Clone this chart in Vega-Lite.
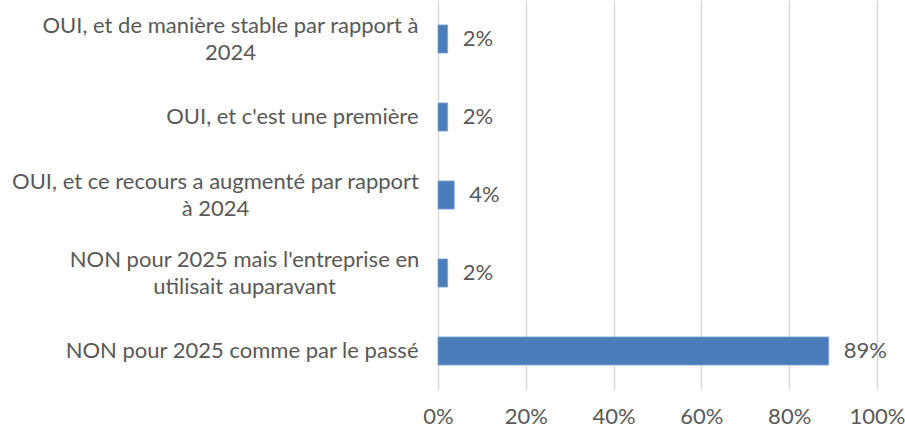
{
  "$schema": "https://vega.github.io/schema/vega-lite/v6.json",
  "width": 439,
  "height": 390,
  "autosize": {"type": "none"},
  "padding": {"left": 438, "top": 0, "right": 28, "bottom": 44},
  "background": "white",
  "config": {"view": {"stroke": null}, "font": "Lato"},
  "data": {"values": [
    {"cat": "OUI, et de manière stable par rapport à|2024", "value": 0.022, "label": "2%"},
    {"cat": "OUI, et c'est une première", "value": 0.022, "label": "2%"},
    {"cat": "OUI, et ce recours a augmenté par rapport|à 2024", "value": 0.037, "label": "4%"},
    {"cat": "NON pour 2025 mais l'entreprise en|utilisait auparavant", "value": 0.022, "label": "2%"},
    {"cat": "NON pour 2025 comme par le passé", "value": 0.89, "label": "89%"}
  ]},
  "encoding": {
    "y": {"field": "cat", "type": "nominal", "sort": null,
      "scale": {"paddingInner": 0.64, "paddingOuter": 0.32},
      "axis": {"title": null, "domain": false, "ticks": false, "grid": false,
        "labelExpr": "split(datum.value, '|')", "labelFontSize": 22, "labelColor": "#595959",
        "labelLineHeight": 27, "labelLimit": 500, "labelFont": "Lato",
        "labelAlign": {"condition": {"test": "indexof(datum.value, '|') >= 0", "value": "center"}, "value": "right"},
        "labelPadding": {"condition": [
          {"test": "indexof(datum.value, 'stable') >= 0", "value": 208},
          {"test": "indexof(datum.value, 'recours') >= 0", "value": 223},
          {"test": "indexof(datum.value, 'utilisait') >= 0", "value": 194}
        ], "value": 20},
        "labelOffset": {"condition": {"test": "indexof(datum.value, '|') >= 0", "value": -13}, "value": 0}}},
    "x": {"field": "value", "type": "quantitative",
      "scale": {"domain": [0, 1], "nice": false},
      "axis": {"title": null, "format": "%", "values": [0, 0.2, 0.4, 0.6, 0.8, 1], "domain": false, "ticks": false,
        "grid": true, "gridColor": "#d9d9d9", "gridWidth": 1.5, "labelFlush": false,
        "labelFontSize": 22, "labelColor": "#595959", "labelPadding": 16, "labelFont": "Lato"}}
  },
  "layer": [
    {"mark": {"type": "bar", "color": "#4a7dba", "stroke": "#7fa6d6", "strokeWidth": 0.8}},
    {"mark": {"type": "text", "align": "left", "baseline": "middle", "dx": 15, "fontSize": 22, "color": "#595959", "font": "Lato"},
      "encoding": {"text": {"field": "label"}}}
  ]
}
